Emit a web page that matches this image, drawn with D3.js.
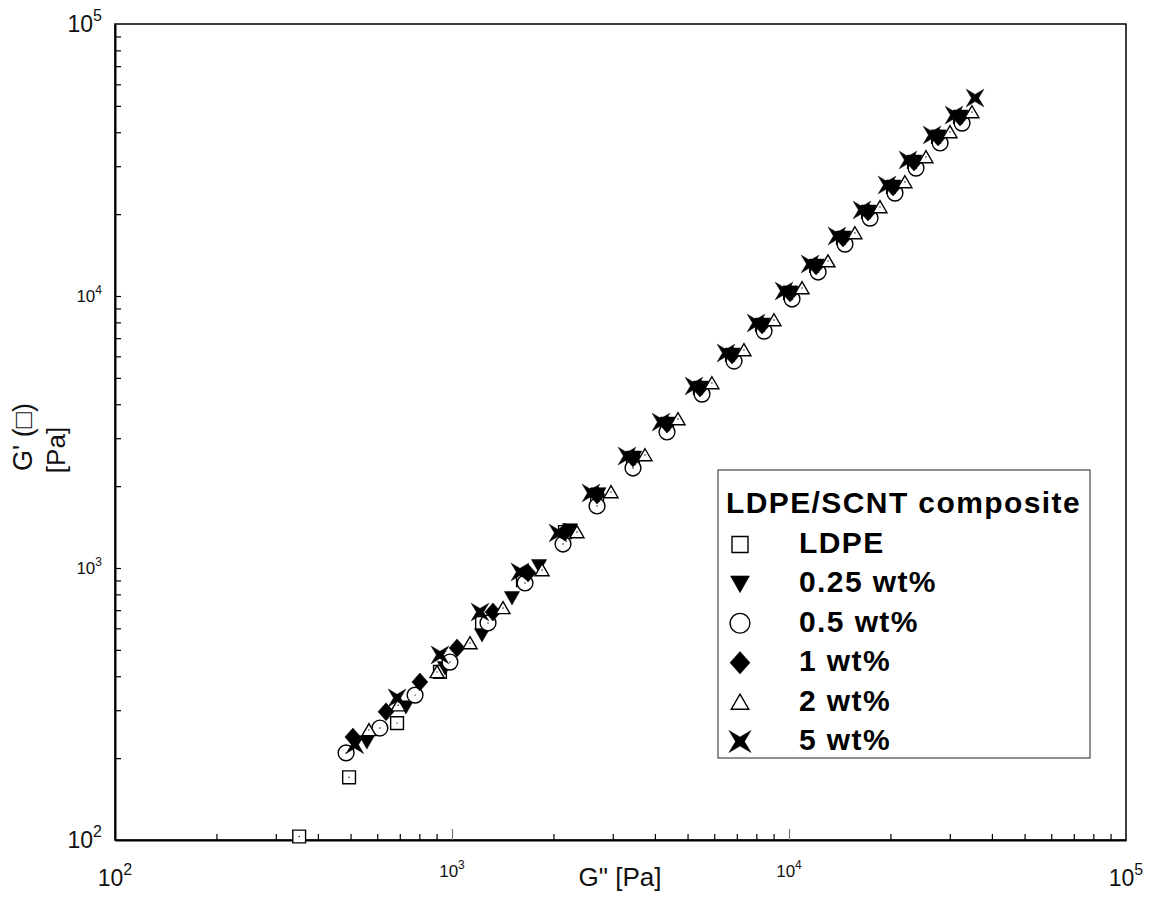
<!DOCTYPE html>
<html>
<head>
<meta charset="utf-8">
<script src="https://cdn.jsdelivr.net/npm/d3@7"></script>
<style>
  body { margin: 0; background: #fff; }
</style>
</head>
<body>
<div id="chart"></div>
<script>
// [G'' (Pa), G' (Pa)]
const ldpe = [[352,103],[495,170],[687,269],[921,415],[1228,628],[1624,903],[2164,1356],[2694,1855],[3444,2537],[4345,3383],[5443,4589],[6774,6069],[8318,7823],[10070,10260],[12030,12890],[14460,16340],[17160,20360],[20350,25160],[23490,31090],[27690,38430],[32170,45500]];
const wt025 = [[559,229],[730,308],[953,429],[1228,567],[1507,776],[1813,1017],[2239,1379],[2720,1870],[3470,2550],[4370,3400],[5480,4610],[6810,6100],[8360,7860],[10120,10310],[12090,12950],[14530,16420],[17240,20460],[20450,25280],[23600,31240],[27820,38610],[32330,45720]];
const wt05 = [[485,209],[611,258],[777,341],[986,451],[1279,628],[1647,881],[2135,1225],[2694,1690],[3444,2331],[4345,3162],[5519,4360],[6869,5766],[8434,7432],[10210,9747],[12200,12250],[14660,15520],[17400,19340],[20630,23900],[23820,29540],[28080,36510],[32620,43230]];
const wt1 = [[508,239],[637,296],[803,381],[1035,508],[1323,689],[1681,959],[2164,1356],[2694,1855],[3444,2537],[4345,3383],[5443,4589],[6774,6069],[8318,7823],[10070,10260],[12030,12890],[14460,16340],[17160,20360],[20350,25160],[23490,31090],[27690,38430],[32170,45500]];
const wt2 = [[567,254],[692,313],[903,415],[1131,530],[1417,713],[1850,983],[2349,1356],[2964,1903],[3738,2602],[4684,3530],[5906,4786],[7350,6330],[9025,8159],[10930,10700],[13050,13440],[15690,17040],[18620,21240],[22080,26240],[25490,32430],[30040,40080],[34900,47460]];
const wt5 = [[515,224],[687,333],[921,479],[1211,689],[1591,967],[2063,1345],[2586,1887],[3306,2580],[4171,3440],[5225,4667],[6503,6172],[7985,7956],[9667,10430],[11550,13110],[13880,16620],[16470,20710],[19540,25590],[22550,31620],[26580,39080],[30880,46270],[35650,53450]];

const seriesNames = ["LDPE", "0.25 wt%", "0.5 wt%", "1 wt%", "2 wt%", "5 wt%"];
const seriesShapes = ["square", "triDown", "circle", "diamond", "triUp", "star"];
const legendTitle = "LDPE/SCNT composite";
const decades = [100, 1000, 10000, 100000];
const exponents = ["2", "3", "4", "5"];

const W = 1153, H = 898;
const svg = d3.select("#chart").append("svg")
  .attr("width", W).attr("height", H)
  .style("font-family", "'Liberation Sans', Arial, sans-serif");

const x = d3.scaleLog().domain([100, 1e5]).range([115, 1126]);
const y = d3.scaleLog().domain([100, 1e5]).range([840, 24]);

// marker shapes, s = scale
function shapePath(shape, s) {
  const p = d3.path();
  if (shape === "square") {
    const h = 6.4 * s;
    p.rect(-h, -h, 2 * h, 2 * h);
  } else if (shape === "circle") {
    p.arc(0, 0, 7.9 * s, 0, 2 * Math.PI);
  } else if (shape === "triDown") {
    p.moveTo(-7.6 * s, -6.4 * s); p.lineTo(7.6 * s, -6.4 * s); p.lineTo(0, 7 * s); p.closePath();
  } else if (shape === "triUp") {
    p.moveTo(0, -6.3 * s); p.lineTo(7 * s, 5.7 * s); p.lineTo(-7 * s, 5.7 * s); p.closePath();
  } else if (shape === "diamond") {
    p.moveTo(0, -9 * s); p.lineTo(8 * s, 0); p.lineTo(0, 9 * s); p.lineTo(-8 * s, 0); p.closePath();
  } else if (shape === "star") {
    const R = 12.5 * s, r = 3.6 * s;
    for (let i = 0; i < 8; i++) {
      const a = Math.PI / 4 + i * Math.PI / 4;
      const rr = i % 2 === 0 ? R : r;
      const px = rr * Math.cos(a), py = rr * Math.sin(a);
      if (i === 0) p.moveTo(px, py); else p.lineTo(px, py);
    }
    p.closePath();
  }
  return p.toString();
}
const filled = { square: false, circle: false, triUp: false, triDown: true, diamond: true, star: true };

// axes frame
svg.append("rect")
  .attr("x", 115).attr("y", 24).attr("width", 1126 - 115).attr("height", 840 - 24)
  .attr("fill", "none").attr("stroke", "#000").attr("stroke-width", 1.5);

const minor = [];
decades.slice(0, 3).forEach(d => { for (let k = 2; k < 10; k++) minor.push(d * k); });

const xMinor = svg.append("g").attr("transform", "translate(0,840)")
  .call(d3.axisBottom(x).tickValues(minor).tickSizeInner(-6).tickSizeOuter(0).tickFormat(""));
xMinor.select(".domain").attr("stroke-width", 2);
xMinor.selectAll(".tick line").attr("stroke-width", 1.2);

const xMajor = svg.append("g").attr("transform", "translate(0,840)")
  .call(d3.axisBottom(x).tickValues([1000, 10000]).tickSizeInner(-11).tickSizeOuter(0).tickFormat(""));
xMajor.select(".domain").remove();
xMajor.selectAll(".tick line").attr("stroke", "#777").attr("stroke-width", 1.2);

const yMinor = svg.append("g").attr("transform", "translate(115,0)")
  .call(d3.axisLeft(y).tickValues(minor.concat([1000, 10000])).tickSizeInner(-6).tickSizeOuter(0).tickFormat(""));
yMinor.select(".domain").attr("stroke-width", 2);
yMinor.selectAll(".tick line").attr("stroke-width", 1.2);

// tick labels 10^n
function powLabel(g, px, py, anchor, exp, big) {
  const t = g.append("text").attr("x", px).attr("y", py)
    .attr("text-anchor", anchor).attr("fill", "#111")
    .attr("font-size", big ? 23 : 17);
  t.append("tspan").text("10");
  t.append("tspan").attr("font-size", big ? 16 : 12).attr("dy", big ? -11 : -8).text(exp);
}
const labels = svg.append("g");
decades.forEach((d, i) => {
  const big = i === 0 || i === 3;
  powLabel(labels, x(d), big ? 886 : 877, "middle", exponents[i], big);
  powLabel(labels, 102, y(d) + (big ? 8 : 6), "end", exponents[i], big);
});

// axis titles
svg.append("text").attr("x", 620).attr("y", 886).attr("text-anchor", "middle")
  .attr("font-size", 26).attr("fill", "#111").text("G\" [Pa]");
svg.append("text").attr("transform", "translate(32,437) rotate(-90)").attr("text-anchor", "middle")
  .attr("font-size", 27).attr("fill", "#111").text("G' (\u25A1)");
svg.append("text").attr("transform", "translate(65,450) rotate(-90)").attr("text-anchor", "middle")
  .attr("font-size", 26).attr("fill", "#111").text("[Pa]");

// data
const allSeries = [ldpe, wt025, wt05, wt1, wt2, wt5];
const plot = svg.append("g");
allSeries.forEach((data, i) => {
  const shape = seriesShapes[i];
  const g = plot.append("g");
  g.selectAll("path").data(data).enter().append("path")
    .attr("transform", d => `translate(${x(d[0])},${y(d[1])})`)
    .attr("d", shapePath(shape, 1))
    .attr("fill", filled[shape] ? "#000" : "#fff")
    .attr("stroke", "#000")
    .attr("stroke-width", filled[shape] ? 0.5 : 1.4);
  if (!filled[shape]) {
    g.selectAll("circle").data(data).enter().append("circle")
      .attr("cx", d => x(d[0])).attr("cy", d => y(d[1])).attr("r", 0.7).attr("fill", "#000");
  }
});

// legend
const lg = svg.append("g");
lg.append("rect").attr("x", 718).attr("y", 470).attr("width", 372).attr("height", 288)
  .attr("fill", "#fff").attr("stroke", "#222").attr("stroke-width", 1);
lg.append("text").attr("x", 726).attr("y", 513).attr("font-size", 30).attr("font-weight", "bold")
  .attr("letter-spacing", 1.4).attr("fill", "#000").text(legendTitle);
seriesNames.forEach((name, i) => {
  const by = 553 + i * 39.4;
  const shape = seriesShapes[i];
  lg.append("path").attr("transform", `translate(740,${by - 8.5})`)
    .attr("d", shapePath(shape, 1.25))
    .attr("fill", filled[shape] ? "#000" : "#fff")
    .attr("stroke", "#000").attr("stroke-width", filled[shape] ? 0.5 : 1.4);
  lg.append("text").attr("x", 799).attr("y", by).attr("font-size", 30).attr("font-weight", "bold")
    .attr("letter-spacing", 1.4).attr("fill", "#000").text(name);
});
</script>
</body>
</html>
